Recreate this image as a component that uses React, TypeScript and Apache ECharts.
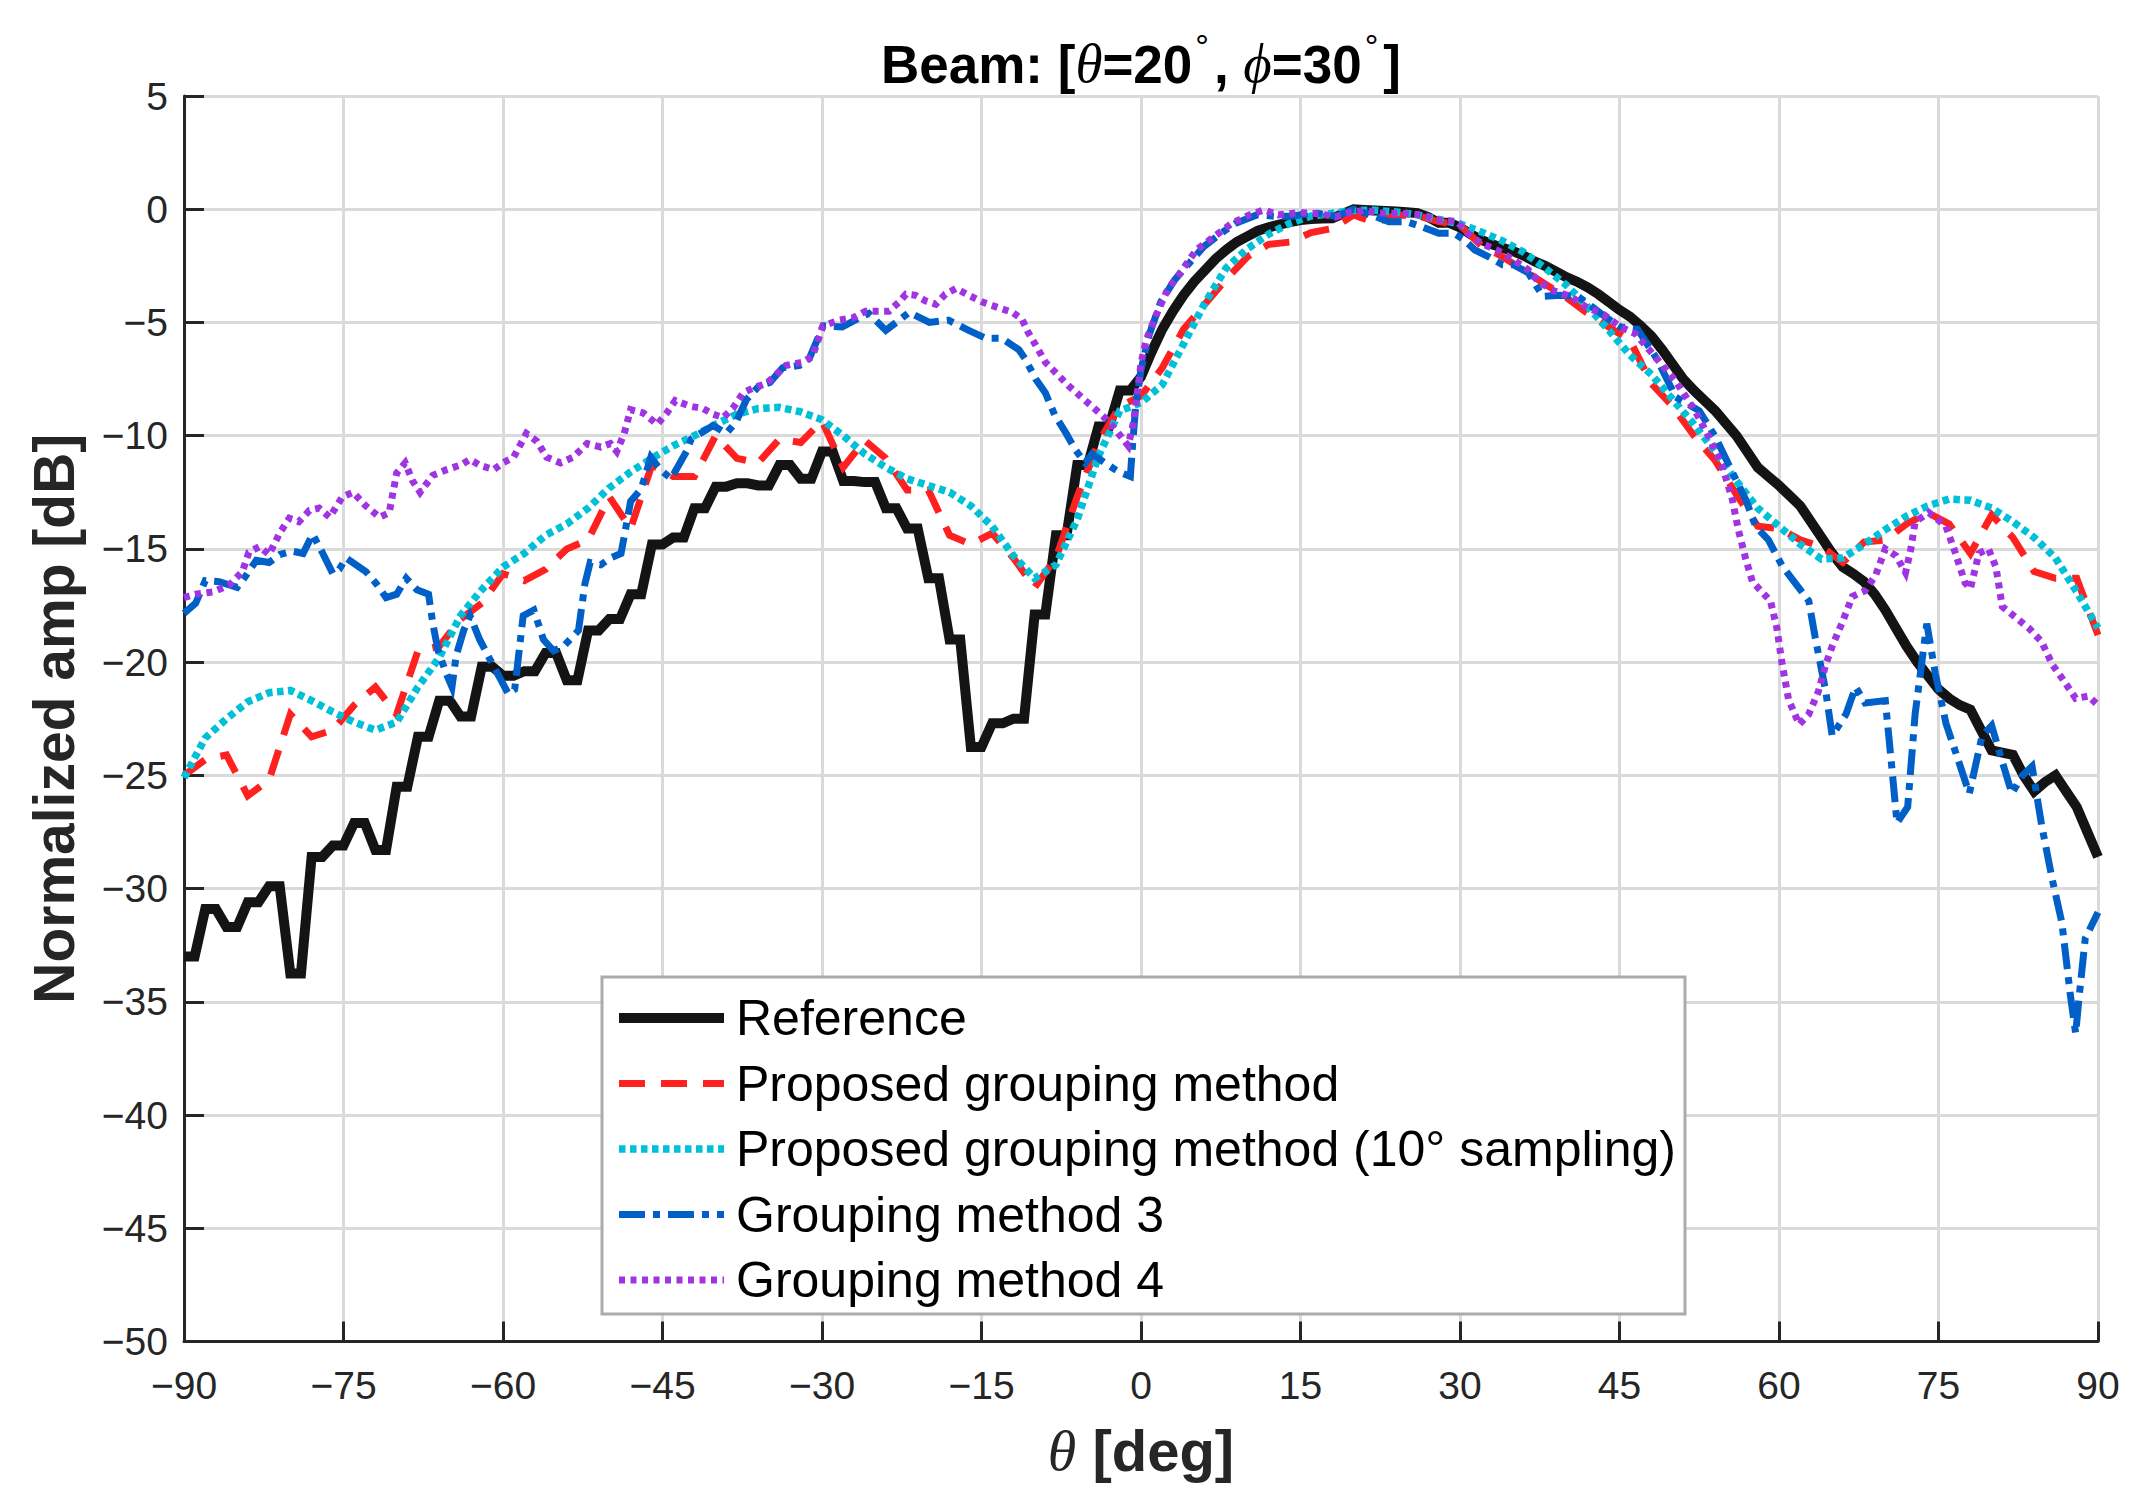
import React, { useEffect, useRef } from "react";
import * as echarts from "echarts";

// ---------- data ----------
const xTicks = [-90, -75, -60, -45, -30, -15, 0, 15, 30, 45, 60, 75, 90];
const yTicks = [-50, -45, -40, -35, -30, -25, -20, -15, -10, -5, 0, 5];

const seriesNames = [
  "Reference",
  "Proposed grouping method",
  "Proposed grouping method (10\u00b0 sampling)",
  "Grouping method 3",
  "Grouping method 4",
];

// 1-degree grid for the reference pattern
const thetaFine = [
  -90, -89, -88, -87, -86, -85, -84, -83, -82, -81, -80, -79, -78, -77, -76, -75, -74, -73, -72, -71,
  -70, -69, -68, -67, -66, -65, -64, -63, -62, -61, -60, -59, -58, -57, -56, -55, -54, -53, -52, -51,
  -50, -49, -48, -47, -46, -45, -44, -43, -42, -41, -40, -39, -38, -37, -36, -35, -34, -33, -32, -31,
  -30, -29, -28, -27, -26, -25, -24, -23, -22, -21, -20, -19, -18, -17, -16, -15, -14, -13, -12, -11,
  -10, -9, -8, -7, -6, -5, -4, -3, -2, -1, 0, 1, 2, 3, 4, 5, 6, 7, 8, 9,
  10, 11, 12, 13, 14, 15, 16, 17, 18, 19, 20, 21, 22, 23, 24, 25, 26, 27, 28, 29,
  30, 31, 32, 33, 34, 35, 36, 37, 38, 39, 40, 41, 42, 43, 44, 45, 46, 47, 48, 49,
  50, 51, 52, 53, 54, 55, 56, 57, 58, 59, 60, 61, 62, 63, 64, 65, 66, 67, 68, 69,
  70, 71, 72, 73, 74, 75, 76, 77, 78, 79, 80, 81, 82, 83, 84, 85, 86, 87, 88, 89, 90,
];
const referenceAmp = [
  -33, -33, -30.9, -30.9, -31.7, -31.7, -30.6, -30.6, -29.9, -29.9,
  -33.75, -33.75, -28.6, -28.6, -28.1, -28.1, -27.1, -27.1, -28.3, -28.3,
  -25.5, -25.5, -23.3, -23.3, -21.7, -21.7, -22.4, -22.4, -20.2, -20.2,
  -20.6, -20.6, -20.4, -20.4, -19.6, -19.6, -20.8, -20.8, -18.6, -18.6,
  -18.1, -18.1, -17, -17, -14.8, -14.8, -14.5, -14.5, -13.2, -13.2,
  -12.25, -12.25, -12.1, -12.1, -12.2, -12.2, -11.3, -11.3, -11.9, -11.9,
  -10.7, -10.7, -12, -12, -12.05, -12.05, -13.2, -13.2, -14.1, -14.1,
  -16.3, -16.3, -19, -19, -23.75, -23.75, -22.7, -22.7, -22.5, -22.5,
  -17.9, -17.9, -14.4, -14.4, -11.3, -11.3, -9.6, -9.6, -8.0, -8.0,
  -7.4, -6.3, -5.3, -4.5, -3.8, -3.2, -2.7, -2.2, -1.8, -1.45,
  -1.2, -0.95, -0.8, -0.68, -0.57, -0.48, -0.43, -0.41, -0.4, -0.2,
  0, -0.03, -0.06, -0.08, -0.1, -0.13, -0.17, -0.35, -0.6, -0.6,
  -0.8, -1.1, -1.35, -1.55, -1.7, -1.85, -2.05, -2.3, -2.5, -2.75,
  -3.0, -3.2, -3.45, -3.75, -4.1, -4.45, -4.75, -5.15, -5.6, -6.2,
  -6.85, -7.5, -8.0, -8.45, -8.9, -9.45, -10.0, -10.7, -11.4, -11.8,
  -12.2, -12.65, -13.1, -13.8, -14.5, -15.2, -15.8, -16.1, -16.45, -17.0,
  -17.7, -18.5, -19.3, -20.0, -20.6, -21.2, -21.6, -21.9, -22.1, -23.0,
  -23.9, -24.0, -24.1, -25.0, -25.7, -25.3, -25.0, -25.7, -26.4, -27.5, -28.6,
];

// 2-degree grid for the two proposed-method curves
const thetaCoarse = [
  -90, -88, -86, -84, -82, -80, -78, -76, -74, -72, -70, -68, -66, -64, -62, -60, -58, -56, -54, -52,
  -50, -48, -46, -44, -42, -40, -38, -36, -34, -32, -30, -28, -26, -24, -22, -20, -18, -16, -14, -12,
  -10, -8, -6, -4, -2, 0, 2, 4, 6, 8, 10, 12, 14, 16, 18, 20, 22, 24, 26, 28,
  30, 32, 34, 36, 38, 40, 42, 44, 46, 48, 50, 52, 54, 56, 58, 60, 62, 64, 66, 68,
  70, 72, 74, 76, 78, 80, 82, 84, 86, 88, 90,
];
const proposedAmp = [
  -25, -24.3, -24.1, -25.9, -25.2, -22.3, -23.3, -23.0, -21.9, -21.1,
  -22.3, -19.5, -19.3, -18.1, -17.4, -16.1, -16.4, -15.9, -15.0, -14.6,
  -12.7, -14.1, -11.3, -11.8, -11.8, -10.0, -11.0, -11.2, -10.15, -10.3,
  -9.35, -11.4, -10.2, -11.0, -12.4, -12.4, -14.4, -14.8, -14.3, -15.4,
  -16.7, -15.4, -12.7, -10.3, -8.7, -8.25, -7.0, -5.3, -4.2, -3.1,
  -2.1, -1.55, -1.45, -1.03, -0.85, -0.25, -0.6, -0.25, -0.28, -0.55,
  -0.7, -1.6, -2.1, -2.7, -3.3, -3.9, -4.6, -5.2, -5.8, -7.7,
  -8.7, -10.0, -11.1, -12.6, -14.0, -14.1, -14.6, -14.9, -15.6, -14.7,
  -14.6, -13.9, -13.4, -13.9, -15.2, -13.5, -14.5, -16.0, -16.3, -16.3, -18.8,
];
const proposed10Amp = [
  -25.1, -23.35, -22.5, -21.75, -21.35, -21.25, -21.7, -22.2, -22.65, -23.0,
  -22.65, -21.1, -19.8, -17.95, -16.8, -15.8, -15.2, -14.4, -13.9, -13.2,
  -12.3, -11.6, -11.0, -10.45, -10.0, -9.5, -9.05, -8.8, -8.75, -8.95,
  -9.3, -10.0, -10.8, -11.4, -11.9, -12.2, -12.5, -13.1, -14.0, -15.3,
  -16.3, -15.7, -13.7, -10.9, -8.9, -8.55, -7.75, -5.95, -4.15, -2.6,
  -1.75, -1.1, -0.62, -0.3, -0.18, -0.05, -0.05, -0.12, -0.25, -0.45,
  -0.65, -1.0, -1.4, -1.9, -2.6, -3.35, -4.3, -5.35, -6.45, -7.3,
  -8.4, -9.5, -10.7, -12.0, -13.2, -14.0, -14.8, -15.45, -15.4, -14.8,
  -14.15, -13.55, -13.1, -12.8, -12.85, -13.2, -13.8, -14.5, -15.4, -16.9, -18.5,
];

// read points for grouping method 3
const method3Theta = [
  -90, -88.9, -88, -86.7, -85, -84.2, -83.2, -82, -81, -79.8, -78.8, -77.9, -77, -76, -75.4, -74.75,
  -72.9, -71.9, -71, -70, -69.1, -68.1, -67, -66.6, -66.1, -65.3, -64.8, -64.4, -63.7, -63.1, -62.2,
  -61.2, -60.3, -59.5, -58.9, -58.1, -57.1, -56.2, -55.25, -54.3, -52.9, -52.3, -51.8, -50.8, -49.9,
  -48.9, -48.6, -48, -47, -46.1, -45.2, -44.2, -42.75, -42.3, -40.25, -39, -38.1, -37.1, -35.9,
  -34.9, -33.7, -32.1, -31.2, -29.9, -28.1, -26.5, -25.6, -24, -22.75, -21.8, -19.9, -18.1, -16.2,
  -14.6, -13.1, -11.5, -10.9, -9.9, -9, -8.1, -7.1, -6.2, -5.25, -4.6, -3.4, -2.1, -1, -0.8, -0.5,
  0, 0.8, 1.85, 3.2, 4.5, 5.9, 7.55, 8.9, 10.9, 12.9, 14.3, 16.3, 18.3, 20, 22, 23.3, 25, 26.3, 28,
  29.4, 30.4, 31.4, 32.7, 34, 35, 36.4, 37.8, 39.4, 41.1, 42.4, 43.8, 45.1, 46.7, 48.5, 50.3, 52.5,
  54, 55.6, 56.85, 57.8, 59, 60.3, 61.6, 62.8, 63.4, 64.4, 65, 66.3, 67.2, 68.1, 70, 70.6, 71.1,
  72.1, 72.8, 73.9, 74.7, 75.7, 76.8, 77.9, 79.1, 80, 81, 81.9, 82.9, 83.8, 84.7, 85.7, 86.6, 87.4,
  87.9, 88.2, 88.8, 90,
];
const method3Amp = [
  -17.85, -17.4, -16.4, -16.45, -16.7, -16.2, -15.5, -15.6, -15.25, -15.1, -15.2, -14.35, -15.15, -16.1, -15.9, -15.4,
  -16, -16.55, -17.15, -17, -16.3, -16.8, -17, -18.3, -19.5, -20.55, -21.1, -19.7, -18.6, -17.95, -19,
  -19.9, -20.7, -21.4, -21.2, -17.95, -17.7, -19, -19.5, -19.3, -18.6, -16.55, -15.6, -15.7, -15.4,
  -15.2, -14.45, -12.9, -12.35, -10.95, -11.5, -11.9, -10.7, -10.15, -9.55, -9.9, -9.4, -8.4, -7.8,
  -7.65, -7.0, -6.9, -6.6, -5.15, -5.2, -4.8, -4.6, -5.35, -4.9, -4.55, -5.0, -4.9, -5.35,
  -5.7, -5.7, -6.2, -6.6, -7.5, -8.1, -9.1, -9.85, -10.6, -11.2, -10.8, -11.2, -11.6, -11.8, -10.45, -8.7,
  -7.1, -5.5, -4.1, -3.1, -2.4, -1.65, -1.06, -0.62, -0.25, -0.32, -0.3, -0.15, -0.32, 0, -0.32, -0.55, -0.55, -0.76, -1.06,
  -1.06, -1.35, -1.8, -2.1, -2.45, -2.45, -2.8, -3.85, -3.8, -3.85, -4.3, -4.8, -5.2, -5.3, -6.6, -8.3, -8.9,
  -10.04, -11.6, -12.8, -14, -14.6, -15.75, -16.55, -17.3, -18.9, -21.3, -23.25, -22.3, -21.1, -21.8, -21.7, -24.6, -27.1,
  -26.4, -22.3, -18.3, -20.5, -22.7, -24.25, -25.8, -23.25, -22.8, -24.4, -25.8, -25, -24.6, -27.2, -29.6, -31.5, -34.7,
  -36.4, -34.9, -32.2, -31.05,
];

// read points for grouping method 4
const method4Theta = [
  -90, -88.9, -87.3, -85.75, -84.5, -83.9, -82.9, -82, -81, -80.1, -79.2, -78.2, -77.3, -76.3, -75.1,
  -74.1, -72.9, -71.6, -70.7, -70, -69.2, -68.5, -67.8, -66.6, -65.3, -64, -63.1, -62.2, -60.9, -60,
  -59, -57.8, -56.8, -55.9, -54.6, -53.4, -52.1, -50.8, -49.9, -49.3, -48.6, -48, -46.8, -45.5, -44.6,
  -43.8, -42.4, -41.2, -40.25, -39.3, -38.4, -37.4, -36.5, -35.25, -34.3, -33.4, -31.8, -30.9, -29.9,
  -28.4, -27.1, -25.9, -23.7, -22.75, -22.1, -21.2, -20.25, -19.3, -18.4, -17.4, -16.2, -14.9, -13.4,
  -12.1, -11.2, -10.6, -9.9, -9, -7.75, -6.8, -5.6, -4.5, -3.2, -2.2, -1.2, -0.7, -0.3, 0, 0.5, 1.5,
  2.5, 3.9, 5.2, 6.9, 8.55, 10.2, 11.6, 12.9, 14.9, 16.9, 18.3, 19.6, 20.9, 22.9, 24.3, 26.3, 28, 29.7,
  30.7, 32, 33.7, 35, 36.4, 37.4, 38.8, 40.4, 41.8, 43.5, 45.1, 46.5, 48.5, 50.3, 52.1, 53.4, 54.7,
  55.6, 56.2, 56.85, 57.5, 58.4, 59.2, 59.8, 60.3, 60.9, 61.9, 62.8, 63.7, 64.4, 65, 65.9, 66.9, 68.1,
  69.1, 70, 71, 71.9, 72.4, 72.8, 74.1, 75.7, 76.6, 77.5, 78, 78.8, 79.7, 80.4, 81, 82.2, 83.5, 84.7,
  85.7, 86.9, 87.9, 89.1, 90,
];
const method4Amp = [
  -17.15, -17, -16.9, -16.6, -16, -15.15, -14.9, -15.25, -14.3, -13.65, -13.8, -13.3, -13.2, -13.6, -12.7,
  -12.5, -13.1, -13.6, -13.4, -11.65, -11.2, -12, -12.5, -11.75, -11.5, -11.3, -11.05, -11.3, -11.5, -11.2,
  -10.95, -9.9, -10.25, -10.95, -11.2, -10.95, -10.35, -10.5, -10.35, -10.7, -9.9, -8.85, -9.0, -9.5, -9.0,
  -8.45, -8.7, -8.8, -9.05, -9.2, -8.8, -8.1, -7.9, -7.7, -7.3, -6.9, -6.75, -6.5, -5.15,
  -4.9, -4.8, -4.5, -4.5, -4.1, -3.75, -3.8, -4.05, -4.2, -3.75, -3.5, -3.8, -4.1, -4.35,
  -4.55, -4.85, -5.45, -6.0, -6.75, -7.35, -7.8, -8.3, -8.75, -9.3, -9.85, -10.45, -9.4, -7.95, -6.8, -5.75, -4.6,
  -3.55, -2.67, -1.8, -1.2, -0.62, -0.25, -0.03, -0.25, -0.15, -0.2, -0.35, -0.15, -0.05, -0.18, -0.18, -0.25, -0.47, -0.54,
  -1.05, -1.5, -1.86, -2.23, -2.67, -3.2, -3.6, -3.85, -4.3, -4.65, -5.2, -5.5, -6.6, -7.6, -8.9, -10.04, -11.4,
  -12.8, -14.2, -15.4, -16.45, -16.9, -17.3, -18.5, -20.1, -21.65, -22.75, -22.3, -21.3, -20.1, -19.3, -18.3, -17.1, -16.85,
  -16.15, -15.0, -15.3, -16.05, -15.0, -13.8, -13.4, -14.0, -15.2, -16.5, -16.75, -15.2, -15.0, -15.8, -17.55, -18.0, -18.5, -19.1,
  -20.1, -20.9, -21.6, -21.5, -21.9,
];

const seriesColors = ["#141414", "#ff2020", "#00bfd8", "#0060c8", "#a034e2"];

const zip = (xs: number[], ys: number[]) => xs.map((x, i) => [x, ys[i]]);

const FONT = "'Liberation Sans', Arial, Helvetica, sans-serif";
const SERIF = "'Liberation Serif', 'DejaVu Serif', serif";

const minusFmt = (v: number) => (v < 0 ? "\u2212" + Math.abs(v) : String(v));

export default function App() {
  const ref = useRef<HTMLDivElement>(null);

  useEffect(() => {
    if (!ref.current) return;
    const chart = echarts.init(ref.current, undefined, { renderer: "svg" });

    const gridColor = "#dadada";
    const axisColor = "#262626";

    const lineStyles: { width: number; type: any }[] = [
      { width: 10, type: "solid" },
      { width: 7, type: [26, 16] },
      { width: 7.5, type: [6.5, 4.5] },
      { width: 7, type: [26, 8, 7, 8] },
      { width: 7, type: [6, 5.5] },
    ];
    const datas = [
      zip(thetaFine, referenceAmp),
      zip(thetaCoarse, proposedAmp),
      zip(thetaCoarse, proposed10Amp),
      zip(method3Theta, method3Amp),
      zip(method4Theta, method4Amp),
    ];

    const option: any = {
      animation: false,
      backgroundColor: "#ffffff",
      grid: { left: 184, right: 41, top: 96, bottom: 166.5, containLabel: false },
      graphic: [
        {
          type: "text",
          x: 1141,
          y: 60,
          style: {
            text: "{b|Beam: [}{i|\u03b8}{b|=20}{s|\u00b0}{b|, }{i|\u03d5}{b|=30}{s|\u00b0}{b|]}",
            align: "center",
            verticalAlign: "middle",
            rich: {
              b: { fontFamily: FONT, fontWeight: "bold", fontSize: 53, lineHeight: 62, fill: "#000", verticalAlign: "bottom" },
              i: { fontFamily: SERIF, fontStyle: "italic", fontWeight: "normal", fontSize: 55, lineHeight: 62, fill: "#000", verticalAlign: "bottom" },
              s: { fontFamily: FONT, fontWeight: "normal", fontSize: 34, lineHeight: 62, fill: "#000", verticalAlign: "top", padding: [0, 5, 0, 3] },
            },
          },
        },
      ],
      xAxis: {
        type: "value",
        min: xTicks[0],
        max: xTicks[xTicks.length - 1],
        interval: 15,
        name: "{i|\u03b8} [deg]",
        nameLocation: "middle",
        nameGap: 80,
        nameTextStyle: {
          fontFamily: FONT,
          fontWeight: "bold",
          fontSize: 58,
          color: axisColor,
          rich: {
            i: { fontFamily: SERIF, fontStyle: "italic", fontWeight: "normal", fontSize: 58, color: axisColor },
          },
        },
        axisLine: { show: true, onZero: false, lineStyle: { color: axisColor, width: 3 } },
        axisTick: { show: true, inside: true, length: 20, lineStyle: { color: axisColor, width: 3 } },
        axisLabel: { margin: 24, fontFamily: FONT, fontSize: 39, color: axisColor, formatter: minusFmt },
        splitLine: { show: true, lineStyle: { color: gridColor, width: 3 } },
      },
      yAxis: {
        type: "value",
        min: yTicks[0],
        max: yTicks[yTicks.length - 1],
        interval: 5,
        name: "Normalized amp [dB]",
        nameLocation: "middle",
        nameRotate: 90,
        nameGap: 102,
        nameTextStyle: { fontFamily: FONT, fontWeight: "bold", fontSize: 57, color: axisColor },
        axisLine: { show: true, onZero: false, lineStyle: { color: axisColor, width: 3 } },
        axisTick: { show: true, inside: true, length: 20, lineStyle: { color: axisColor, width: 3 } },
        axisLabel: { margin: 16, fontFamily: FONT, fontSize: 39, color: axisColor, formatter: minusFmt },
        splitLine: { show: true, lineStyle: { color: gridColor, width: 3 } },
      },
      legend: {
        show: true,
        orient: "vertical",
        left: 602,
        top: 977,
        padding: [13, 9, 6, 12],
        itemGap: 9.5,
        itemWidth: 105,
        itemHeight: 20,
        backgroundColor: "#ffffff",
        borderColor: "#ababab",
        borderWidth: 3,
        borderRadius: 0,
        itemStyle: { opacity: 0, borderWidth: 0 },
        data: seriesNames.map((name, i) => ({
          name,
          itemStyle: { opacity: 0, borderWidth: 0 },
          lineStyle: { color: seriesColors[i], width: lineStyles[i].width, type: lineStyles[i].type, cap: "butt" },
        })),
        textStyle: { fontFamily: FONT, fontSize: 50, lineHeight: 56, color: "#000", padding: [0, 0, 0, 7] },
      },
      series: seriesNames.map((name, i) => ({
        name,
        type: "line",
        data: datas[i],
        showSymbol: false,
        symbol: "none",
        smooth: false,
        clip: true,
        color: seriesColors[i],
        lineStyle: { color: seriesColors[i], width: lineStyles[i].width, type: lineStyles[i].type, cap: "butt", join: "miter" },
        z: 2 + i,
      })),
    };

    chart.setOption(option);
    return () => chart.dispose();
  }, []);

  return (
    <div style={{ position: "absolute", left: 0, top: 0, width: 2139, height: 1508, background: "#fff" }}>
      <div ref={ref} style={{ width: 2139, height: 1508 }} />
    </div>
  );
}
